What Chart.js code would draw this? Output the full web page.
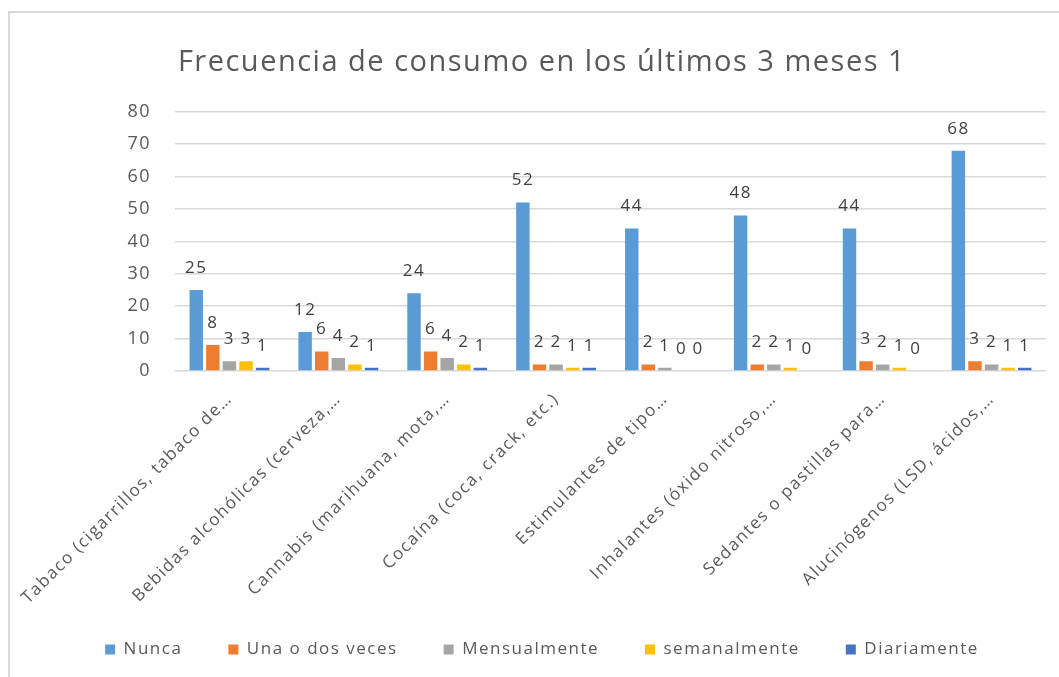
<!DOCTYPE html>
<html>
<head>
<meta charset="utf-8">
<script src="https://cdn.jsdelivr.net/npm/chart.js@4"></script>
<style>
  html, body { margin: 0; padding: 0; background: #fff; overflow: hidden; }
  #frame { position: absolute; left: 8px; top: 11px; width: 1200px; height: 800px; border: 2px solid #d9d9d9; box-sizing: border-box; }
  #wrap { position: absolute; left: 0; top: 0; width: 1059px; height: 677px; }
</style>
</head>
<body>
<div id="frame"></div>
<div id="wrap"><canvas id="c" width="1059" height="677"></canvas></div>
<script>
const categories = [
  "Tabaco (cigarrillos, tabaco de…",
  "Bebidas alcohólicas (cerveza,…",
  "Cannabis (marihuana, mota,…",
  "Cocaína (coca, crack, etc.)",
  "Estimulantes de tipo…",
  "Inhalantes (óxido nitroso,…",
  "Sedantes o pastillas para…",
  "Alucinógenos (LSD, ácidos,…"
];
const seriesNames = ["Nunca", "Una o dos veces", "Mensualmente", "semanalmente", "Diariamente"];
const nunca        = [25, 12, 24, 52, 44, 48, 44, 68];
const unaODosVeces = [8, 6, 6, 2, 2, 2, 3, 3];
const mensualmente = [3, 4, 4, 2, 1, 2, 2, 2];
const semanalmente = [3, 2, 2, 1, 0, 1, 1, 1];
const diariamente  = [1, 1, 1, 1, 0, 0, 0, 1];
const yTicks = [0, 10, 20, 30, 40, 50, 60, 70, 80];
const titleText = "Frecuencia de consumo en los últimos 3 meses 1";

const colors = ["#5B9BD5", "#ED7D31", "#A5A5A5", "#FFC000", "#4472C4"];
const seriesValues = [nunca, unaODosVeces, mensualmente, semanalmente, diariamente];
const FONT = "'Open Sans', sans-serif";

const spacingPlugin = {
  id: 'spacing',
  beforeUpdate(chart) { chart.ctx.letterSpacing = '1.5px'; },
  beforeDraw(chart) { chart.ctx.letterSpacing = '1.5px'; }
};

const valueLabels = {
  id: 'valueLabels',
  afterDatasetsDraw(chart) {
    const ctx = chart.ctx;
    ctx.save();
    ctx.font = "17px " + FONT;
    ctx.fillStyle = "#404040";
    ctx.textAlign = "center";
    ctx.textBaseline = "middle";
    chart.data.datasets.forEach((ds, i) => {
      const meta = chart.getDatasetMeta(i);
      meta.data.forEach((bar, j) => {
        ctx.fillText(String(ds.data[j]), bar.x, bar.y - 22);
      });
    });
    ctx.restore();
  }
};

new Chart(document.getElementById('c'), {
  type: 'bar',
  data: {
    labels: categories,
    datasets: seriesNames.map((n, i) => ({
      label: n,
      data: seriesValues[i],
      backgroundColor: colors[i],
      borderWidth: 0,
      categoryPercentage: 0.762,
      barPercentage: 0.81
    }))
  },
  options: {
    responsive: false,
    animation: false,
    layout: { padding: { left: 38, right: 13, top: 12, bottom: 9 } },
    plugins: {
      title: {
        display: true,
        text: titleText,
        color: "#595959",
        font: { family: FONT, size: 29, weight: 'normal', lineHeight: 1.2 },
        padding: { top: 33, bottom: 32 }
      },
      legend: {
        position: 'bottom',
        labels: {
          color: "#595959",
          font: { family: FONT, size: 17 },
          boxWidth: 10,
          boxHeight: 10,
          padding: 46
        }
      },
      tooltip: { enabled: false }
    },
    scales: {
      x: {
        grid: { display: false },
        border: { display: false },
        ticks: {
          color: "#595959",
          font: { family: FONT, size: 17 },
          minRotation: 45,
          maxRotation: 45,
          padding: 10,
          autoSkip: false
        },
        afterFit(scale) {
          scale.height = 224;
          scale._computeLabelArea = () => undefined;
        }
      },
      y: {
        min: 0,
        max: 80,
        afterBuildTicks(scale) { scale.ticks = yTicks.map(v => ({ value: v })); },
        grid: { color: "#d9d9d9", lineWidth: 1.5, drawTicks: false },
        border: { display: false },
        ticks: {
          color: "#595959",
          font: { family: FONT, size: 18 },
          padding: 24
        },
        afterFit(scale) { scale.width = 137; }
      }
    }
  },
  plugins: [spacingPlugin, valueLabels]
});
</script>
</body>
</html>
